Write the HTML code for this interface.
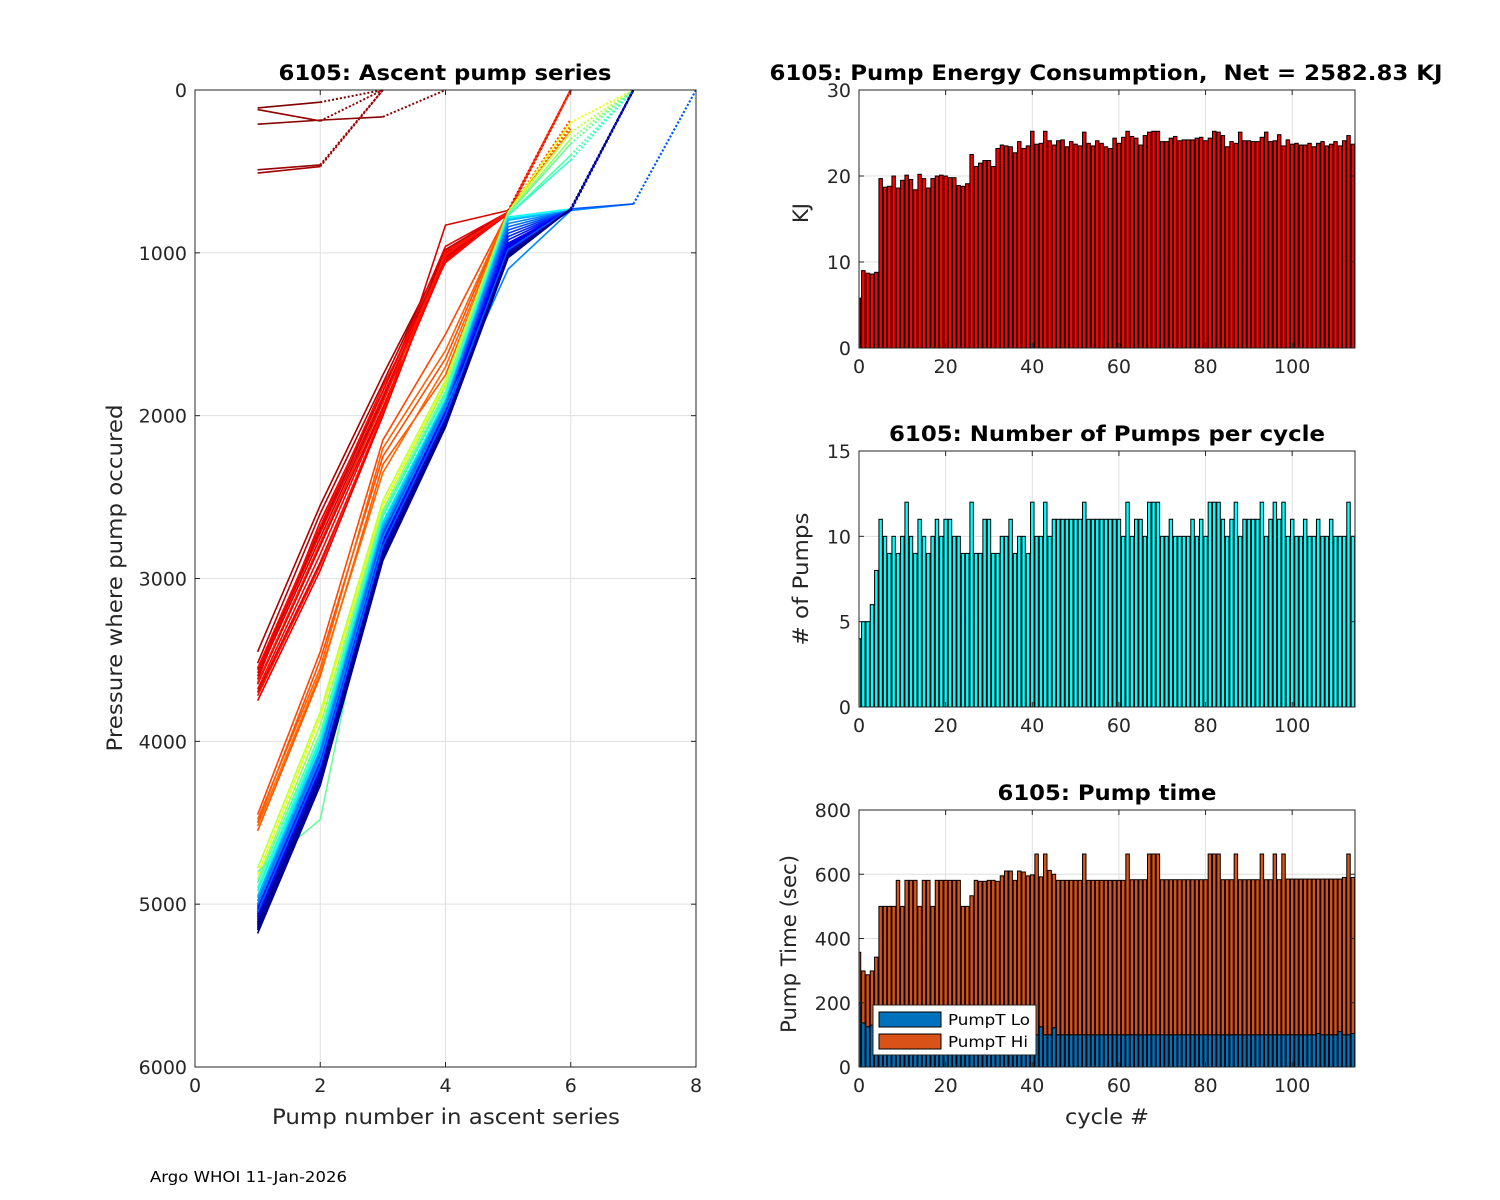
<!DOCTYPE html>
<html><head><meta charset="utf-8">
<style>
html,body{margin:0;padding:0;background:#fff;}
svg{display:block;font-family:"DejaVu Sans","Liberation Sans",sans-serif;}
</style></head>
<body>
<svg id="fig" width="1500" height="1200" viewBox="0 0 1500 1200" xmlns="http://www.w3.org/2000/svg">
<rect x="0" y="0" width="1500" height="1200" fill="#fff"/>
<text x="150" y="1182" font-size="15" fill="#000" textLength="197" lengthAdjust="spacingAndGlyphs">Argo WHOI 11-Jan-2026</text>
</svg>
<script>
// ===== Ascent pump series data (cycle index, pressures at pump 1..n) =====
const profileCycles = [0,1,2,3,4,5,6,7,8,9,10,11,12,13,14,15,16,17,22,23,24,25,26,45,50,55,60,62,65,70,75,80,85,88,91,94,96,98,100,101,85,102,103,104,105,106,90,107,108,109,110,112,113,114];
const profilePressures = [
 [110,75,0],
 [210,185,165,0],
 [120,190,0],
 [490,460,0],
 [510,470,0],
 [3450,2550,1750,1000,750,0],
 [3520,2600,1800,980,750,0],
 [3560,2700,1850,1000,760,0],
 [3600,2750,1900,1030,760,0],
 [3650,2800,1950,1050,760,0],
 [3700,2900,2000,830,740,0],
 [3750,2950,2000,1000,760,0],
 [3620,2650,1850,960,750,0],
 [3580,2720,1880,1020,750,0],
 [3680,2850,1960,1040,760,0],
 [3550,2680,1820,1060,750,0],
 [3720,2920,1980,990,760,0],
 [3640,2780,1920,1010,750,0],
 [4450,3450,2150,1500,750,0],
 [4500,3500,2250,1650,750,180],
 [4550,3600,2300,1750,760,220],
 [4480,3550,2200,1600,750,250],
 [4520,3580,2350,1700,760,240],
 [4820,3850,2550,1800,750,200,0],
 [4780,3820,2520,1780,750,260,0],
 [4850,3900,2580,1820,760,300,0],
 [4800,4480,2600,1850,760,330,0],
 [4870,3950,2600,1880,770,400,0],
 [4900,3980,2620,1870,770,430,0],
 [4920,4000,2650,1900,780,730,0],
 [4950,4020,2660,1910,790,740,0],
 [4960,4050,2680,1920,800,740,0],
 [4980,4060,2700,1930,820,740,0],
 [5000,4080,2720,1950,840,740,0],
 [5010,4100,2730,1960,860,740,0],
 [5020,4120,2740,1960,880,740,0],
 [5030,4130,2750,1970,900,740,0],
 [5040,4140,2760,1980,920,740,0],
 [5050,4150,2770,1990,940,740,0],
 [5060,4160,2780,2000,950,740,0],
 [5000,4100,2750,1950,1100,740,700,0],
 [5070,4170,2790,2000,960,740,0],
 [5080,4180,2800,2010,970,740,0],
 [5090,4190,2810,2020,980,740,0],
 [5100,4200,2820,2020,990,735,0],
 [5110,4210,2830,2030,1000,735,0],
 [5050,4150,2800,2000,980,730,700,0],
 [5120,4220,2840,2040,1000,735,0],
 [5130,4230,2850,2050,1010,730,0],
 [5140,4240,2860,2050,1010,730,0],
 [5150,4250,2870,2060,1020,730,0],
 [5160,4260,2880,2060,1020,730,0],
 [5180,4270,2890,2070,1030,730,0],
 [5120,4230,2860,2050,1010,730,0]
];
const ascentXTicks = [0,2,4,6,8];
const ascentYTicks = [0,1000,2000,3000,4000,5000,6000];

// ===== Energy per cycle (KJ) =====
const energyKJ = [5.8,9.0,8.7,8.6,8.8,19.7,18.7,18.8,20.0,18.6,19.5,20.1,19.6,18.4,20.2,19.7,18.6,19.7,20.0,20.1,
 20.0,19.8,19.8,18.9,18.8,19.1,22.5,21.1,21.5,21.8,21.8,21.1,23.2,23.6,23.5,23.4,22.7,24.0,23.2,23.5,
 25.2,23.7,23.8,25.2,24.1,23.6,24.1,24.2,23.4,24.0,23.7,23.5,25.1,23.8,23.5,24.1,23.8,23.4,23.2,24.4,
 23.8,24.5,25.2,24.6,24.4,23.6,24.7,25.1,25.2,25.2,24.0,24.0,24.4,24.6,24.1,24.2,24.2,24.2,24.4,24.5,
 24.1,24.4,25.2,25.1,24.7,23.4,24.0,23.8,25.1,24.1,24.1,24.0,24.0,24.5,25.1,24.0,24.1,24.8,23.5,24.2,
 23.7,23.8,23.6,23.6,23.8,23.4,23.8,24.0,23.5,23.7,24.0,23.5,24.1,24.7,23.7];
const energyYTicks = [0,10,20,30];

// ===== Number of pumps per cycle =====
const pumpCounts = [4,5,5,6,8,11,10,9,10,9,10,12,10,9,11,10,9,10,11,10,
 11,11,10,10,9,9,12,9,9,11,11,9,9,10,10,11,9,10,10,9,
 12,10,10,12,10,11,11,11,11,11,11,11,12,11,11,11,11,11,11,11,
 11,10,12,10,11,11,10,12,12,12,10,10,11,10,10,10,10,11,10,11,
 10,12,12,12,11,10,11,12,10,11,11,11,11,12,10,11,12,11,12,10,
 11,10,10,11,10,10,11,10,10,11,10,10,10,12,10];
const pumpYTicks = [0,5,10,15];

// ===== Pump time (sec) =====
const timeLo = [200,137,125,130,115,100,100,100,100,100,100,100,100,100,100,100,100,100,100,100,
 100,100,100,100,100,100,100,100,100,100,100,100,100,100,100,100,100,100,100,100,
 100,100,125,100,100,122,100,100,100,100,100,100,100,100,100,100,100,100,100,100,
 100,100,100,100,100,100,100,100,100,100,100,100,100,100,100,100,100,100,100,100,
 100,100,100,100,100,100,100,100,100,100,100,100,100,100,100,100,100,100,100,100,
 100,100,100,100,100,100,104,100,100,100,100,110,100,100,104];
const timeTotal = [357,299,287,299,342,500,500,500,500,581,500,581,581,581,500,581,581,500,581,581,
 581,581,581,581,500,500,533,581,578,578,581,581,578,595,610,610,581,610,607,595,
 598,663,592,663,612,600,581,581,581,581,581,581,663,581,581,581,581,581,581,581,
 581,581,663,583,583,583,583,663,663,663,583,583,583,583,583,583,583,583,583,583,
 583,663,663,663,583,583,583,663,583,583,583,583,583,663,583,583,663,583,663,585,
 585,585,585,585,585,585,585,585,585,585,585,585,590,663,590];
const timeYTicks = [0,200,400,600,800];
const cycleXTicks = [0,20,40,60,80,100];

const NS = "http://www.w3.org/2000/svg";
const fig = document.getElementById('fig');
function mk(tag, attrs, parent){
  const e = document.createElementNS(NS, tag);
  for (const k in attrs) e.setAttribute(k, attrs[k]);
  (parent||fig).appendChild(e);
  return e;
}
function txt(s, x, y, size, anchor, weight, parent, len){
  const t = mk('text', {x:x, y:y, 'font-size':size, 'text-anchor':anchor||'middle', fill:'#262626'}, parent);
  if (weight) { t.setAttribute('font-weight', weight); t.setAttribute('fill', '#000'); }
  if (len) { t.setAttribute('textLength', len); t.setAttribute('lengthAdjust', 'spacingAndGlyphs'); }
  t.setAttribute('xml:space', 'preserve');
  t.style.whiteSpace = 'pre';
  t.textContent = s;
  return t;
}
function jet(v){
  const c = x => Math.max(0, Math.min(1, x));
  const r = c(1.5 - Math.abs(4*v - 3)), g = c(1.5 - Math.abs(4*v - 2)), b = c(1.5 - Math.abs(4*v - 1));
  return 'rgb(' + Math.round(r*255) + ',' + Math.round(g*255) + ',' + Math.round(b*255) + ')';
}

function makeAxes(name, L, T, R, B, xmin, xmax, ymin, ymax, xticks, yticks, reverseY){
  const g = mk('g', {});
  
  
  const sx = v => L + (v - xmin) / (xmax - xmin) * (R - L);
  const sy = reverseY ? (v => T + (v - ymin) / (ymax - ymin) * (B - T))
                      : (v => B - (v - ymin) / (ymax - ymin) * (B - T));
  mk('rect', {x:L, y:T, width:R-L, height:B-T, fill:'#fff'}, g);
  const grid = mk('g', {stroke:'#dfdfdf', 'stroke-width':1}, g);
  
  
  xticks.forEach(v => { const x = sx(v); if (x > L+1 && x < R-1) mk('line', {x1:x, y1:T, x2:x, y2:B}, grid); });
  yticks.forEach(v => { const y = sy(v); if (y > T+1 && y < B-1) mk('line', {x1:L, y1:y, x2:R, y2:y}, grid); });
  const plot = mk('g', {}, g);
  return {g, plot, sx, sy, L, T, R, B, finish: function(){
    mk('rect', {x:L, y:T, width:R-L, height:B-T, fill:'none', stroke:'#262626', 'stroke-width':1}, g);
    const tk = mk('g', {stroke:'#262626', 'stroke-width':1}, g);
    xticks.forEach(v => { const x = sx(v);
      mk('line', {x1:x, y1:B, x2:x, y2:B-5}, tk); mk('line', {x1:x, y1:T, x2:x, y2:T+5}, tk);
      const t = txt(String(v), x, B + 25, 19, 'middle', null, g);
      
      
    });
    yticks.forEach(v => { const y = sy(v);
      mk('line', {x1:L, y1:y, x2:L+5, y2:y}, tk); mk('line', {x1:R, y1:y, x2:R-5, y2:y}, tk);
      const t = txt(String(v), L - 8, y + 7, 19, 'end', null, g);
      
      
    });
  }};
}

// ===== Left: ascent pump series =====
const A = makeAxes('ascent-axes', 195, 90, 696, 1067, 0, 8, 0, 6000, ascentXTicks, ascentYTicks, true);
profilePressures.forEach((p, i) => {
  const col = jet(1 - profileCycles[i] / 114);
  const n = p.length;
  const solidPts = p.slice(0, n-1).map((v, k) => A.sx(k+1) + ',' + A.sy(v)).join(' ');
  const pl = mk('polyline', {points: solidPts, fill:'none', stroke: col, 'stroke-width': 1.6}, A.plot);
  
  
  const dl = mk('line', {x1:A.sx(n-1), y1:A.sy(p[n-2]), x2:A.sx(n), y2:A.sy(p[n-1]), stroke: col, 'stroke-width': 2, 'stroke-dasharray':'2,2'}, A.plot);
  
  
});
A.finish();
let t;
t = txt('6105: Ascent pump series', 445, 80, 21, 'middle', 'bold', null, 333);  
t = txt('Pump number in ascent series', 446, 1124, 21, 'middle', null, null, 348);  
t = txt('Pressure where pump occured', 0, 0, 21, 'middle', null, null, 347); t.setAttribute('transform','translate(122,578) rotate(-90)');
 

const bw = 0.8;
function bars(ax, vals, base, fill, prefix){
  vals.forEach((v, i) => {
    const b0 = base ? base[i] : 0;
    const x0 = ax.sx(i - bw/2), x1 = ax.sx(i + bw/2);
    const y0 = ax.sy(v), y1 = ax.sy(b0);
    const r = mk('rect', {x: Math.max(x0, ax.L), y: y0, width: x1 - Math.max(x0, ax.L), height: Math.max(0, y1 - y0), fill: fill, stroke:'#000', 'stroke-width':1}, ax.plot);
    
    
  });
}

// ===== Energy =====
const E = makeAxes('energy-axes', 859, 90, 1355, 348, 0, 114.5, 0, 30, cycleXTicks, energyYTicks, false);
bars(E, energyKJ, null, '#ff0000', 'energy-bar');
E.finish();
t = txt('6105: Pump Energy Consumption,  Net = 2582.83 KJ', 1106, 80, 21, 'middle', 'bold', null, 673);  
t = txt('KJ', 0, 0, 21, 'middle'); t.setAttribute('transform','translate(808,213) rotate(-90)');
 

// ===== Pumps =====
const P = makeAxes('pumps-axes', 859, 451, 1355, 707, 0, 114.5, 0, 15, cycleXTicks, pumpYTicks, false);
bars(P, pumpCounts, null, '#00ffff', 'pumps-bar');
P.finish();
t = txt('6105: Number of Pumps per cycle', 1107, 441, 21, 'middle', 'bold', null, 436);  
t = txt('# of Pumps', 0, 0, 21, 'middle', null, null, 133); t.setAttribute('transform','translate(808,579) rotate(-90)');
 

// ===== Pump time =====
const Tm = makeAxes('time-axes', 859, 810, 1355, 1067, 0, 114.5, 0, 800, cycleXTicks, timeYTicks, false);
bars(Tm, timeTotal, timeLo, '#d95319', 'time-hi-bar');
bars(Tm, timeLo, null, '#0072bd', 'time-lo-bar');
Tm.finish();
t = txt('6105: Pump time', 1107, 800, 21, 'middle', 'bold', null, 219);  
t = txt('Pump Time (sec)', 0, 0, 21, 'middle', null, null, 178); t.setAttribute('transform','translate(796,944) rotate(-90)');
 
t = txt('cycle #', 1107, 1124, 21, 'middle', null, null, 84);  

// legend
const lg = mk('g', {});


mk('rect', {x:873, y:1005, width:163, height:50, fill:'#fff', stroke:'#262626', 'stroke-width':1}, lg);
const l1 = mk('rect', {x:879, y:1012, width:62, height:15, fill:'#0072bd', stroke:'#000'}, lg);
 
const l2 = mk('rect', {x:879, y:1034, width:62, height:15, fill:'#d95319', stroke:'#000'}, lg);
 
t = txt('PumpT Lo', 948, 1025, 15, 'start', null, lg, 82); t.setAttribute('fill','#000');
 
t = txt('PumpT Hi', 948, 1047, 15, 'start', null, lg, 80); t.setAttribute('fill','#000');
 
</script>
</body></html>
